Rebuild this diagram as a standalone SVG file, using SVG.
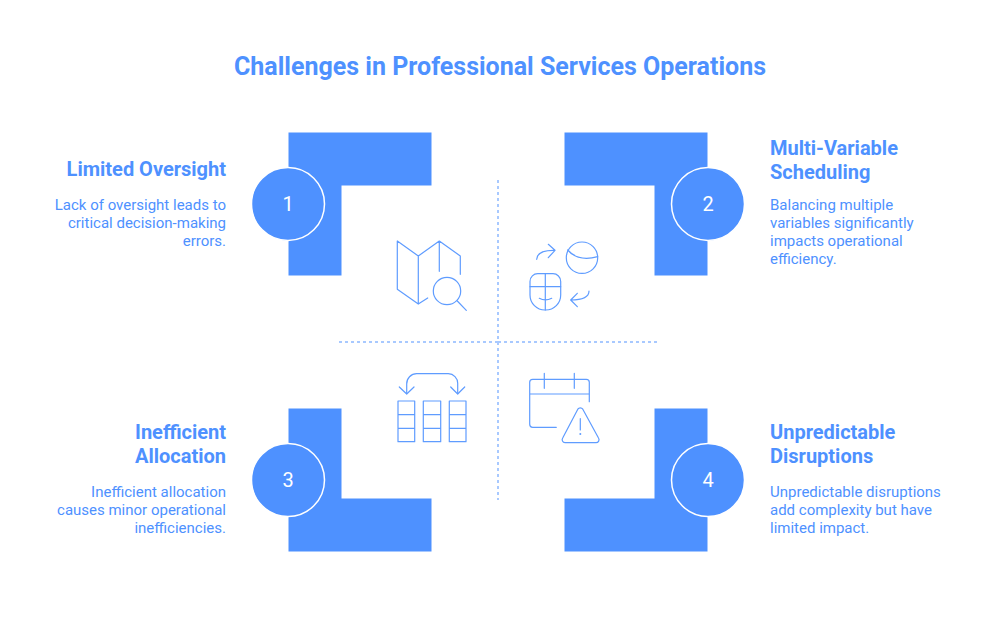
<svg xmlns="http://www.w3.org/2000/svg" width="1000" height="625" viewBox="0 0 1000 625">
<style>
text{font-family:Roboto,"Liberation Sans",sans-serif;fill:#4e91ff}
.t{font-size:25px;font-weight:700;text-anchor:middle}
.h{font-size:20px;font-weight:700}
.b{font-size:15px}
.e{text-anchor:end}
.n{font-size:20px;font-weight:400;fill:#fff;text-anchor:middle}
.s{fill:#4e91ff;stroke:none}
.c{fill:#4e91ff;stroke:#fff;stroke-width:1.500}
.d{fill:none;stroke:#a8c9ff;stroke-width:2;stroke-dasharray:3 3}
.i{fill:none;stroke:#5f9cff;stroke-width:1.200;stroke-linecap:round;stroke-linejoin:round}
</style>
<rect width="1000" height="625" fill="#fff"/>
<text class="t" x="500" y="75">Challenges in Professional Services Operations</text>
<g id="connectors">
<path class="d" d="M498 180V500"/>
<path class="d" d="M339 342H498"/>
<path class="d" d="M498 342H657"/>
</g>
<g id="node-1">
<path class="s" d="M288.500 132.500H431.500V185.500H341.500V275.500H288.500Z"/>
<circle class="c" cx="288" cy="204" r="36.500"/>
<text class="n" x="288" y="211">1</text>
<text class="h e" x="226" y="176">Limited Oversight</text>
<text class="b e" x="226" y="210">Lack of oversight leads to</text>
<text class="b e" x="226" y="228">critical decision-making</text>
<text class="b e" x="226" y="246">errors.</text>
</g>
<g id="node-2">
<path class="s" d="M564.500 132.500H707.500V275.500H654.500V185.500H564.500Z"/>
<circle class="c" cx="708" cy="204" r="36.500"/>
<text class="n" x="708" y="211">2</text>
<text class="h" x="770" y="155">Multi-Variable</text>
<text class="h" x="770" y="179">Scheduling</text>
<text class="b" x="770" y="210">Balancing multiple</text>
<text class="b" x="770" y="228">variables significantly</text>
<text class="b" x="770" y="246">impacts operational</text>
<text class="b" x="770" y="264">efficiency.</text>
</g>
<g id="node-3">
<path class="s" d="M288.500 408.500H341.500V498.500H431.500V551.500H288.500Z"/>
<circle class="c" cx="288" cy="480" r="36.500"/>
<text class="n" x="288" y="487">3</text>
<text class="h e" x="226" y="439">Inefficient</text>
<text class="h e" x="226" y="463">Allocation</text>
<text class="b e" x="226" y="497">Inefficient allocation</text>
<text class="b e" x="226" y="515">causes minor operational</text>
<text class="b e" x="226" y="533">inefficiencies.</text>
</g>
<g id="node-4">
<path class="s" d="M654.500 408.500H707.500V551.500H564.500V498.500H654.500Z"/>
<circle class="c" cx="708" cy="480" r="36.500"/>
<text class="n" x="708" y="487">4</text>
<text class="h" x="770" y="439">Unpredictable</text>
<text class="h" x="770" y="463">Disruptions</text>
<text class="b" x="770" y="497">Unpredictable disruptions</text>
<text class="b" x="770" y="515">add complexity but have</text>
<text class="b" x="770" y="533">limited impact.</text>
</g>
<g id="icon-map">
<path class="i" d="M427.700 298L418.300 304V256L397.300 241V289.300L418.300 304M418.300 256L439.300 241L460.300 256V274.300M439.300 241V271.300"/>
<circle class="i" cx="447" cy="291" r="13.700"/>
<path class="i" d="M457.300 301L466.300 310.300"/>
</g>
<g id="icon-cycle">
<circle class="i" cx="582" cy="257.700" r="15.700"/>
<path class="i" d="M567.700 250Q578 262 597.700 256.700"/>
<path class="i" d="M536.700 259.300C537 253 543 250 555 250.300M548.300 244.300L555 250.300L548.300 257.700"/>
<path class="i" d="M538 273.700H553A7.700 7.700 0 0 1 560.700 281.400V295A15 15 0 0 1 545.700 310H545A15 15 0 0 1 530 295V281.400A7.700 7.700 0 0 1 538 273.700Z"/>
<path class="i" d="M530 286.700H560.700M545.300 273.700V310M539.300 298.300Q545.300 301.500 551.700 298.300"/>
<path class="i" d="M589 291C589 297 583 300 570.700 300M577.300 293.300L570.700 300L577.300 306.700"/>
</g>
<g id="icon-columns">
<path class="i" d="M406.700 393.300V384A10 10 0 0 1 416.700 373.700H448.300A9.500 9.500 0 0 1 457.700 383.300V393.300"/>
<path class="i" d="M399.300 387L406.700 394L414 387M450.700 387L457.700 394L464.700 387"/>
<path class="i" d="M398 401H414.700V441.700H398ZM398 414.700H414.700M398 428.300H414.700M423.300 401H440.700V441.700H423.300ZM423.300 414.700H440.700M423.300 428.300H440.700M449.300 401H466V441.700H449.300ZM449.300 414.700H466M449.300 428.300H466"/>
</g>
<g id="icon-calendar">
<path class="i" d="M589.300 401.700V382.300A3 3 0 0 0 586.300 379.300H532.700A3 3 0 0 0 529.700 382.300V424.300A3 3 0 0 0 532.700 427.300H556.300M529.700 394H589.300M544.300 373.300V388.300M574.300 373.300V388.300"/>
<path class="i" d="M577.800 409.200A3 3 0 0 1 582.800 409.200L598.500 438A3 3 0 0 1 596 442.700H565A3 3 0 0 1 562.700 438ZM580.300 418.700V430"/>
<circle cx="580.300" cy="434" r="1" fill="#5f9cff"/>
</g>
</svg>
